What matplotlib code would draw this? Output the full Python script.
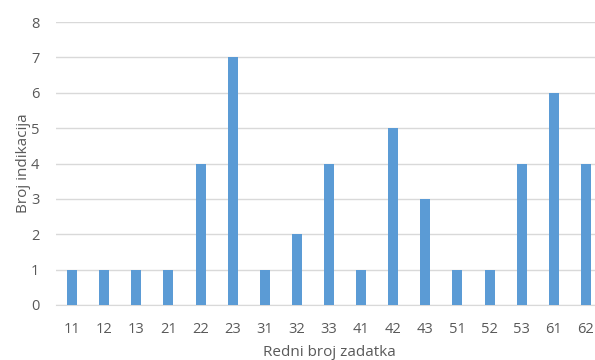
import matplotlib
matplotlib.use("Agg")
import matplotlib.pyplot as plt

categories = ["11", "12", "13", "21", "22", "23", "31", "32", "33", "41",
              "42", "43", "51", "52", "53", "61", "62"]
values = [1, 1, 1, 1, 4, 7, 1, 2, 4, 1, 5, 3, 1, 1, 4, 6, 4]
y_ticks = [0, 1, 2, 3, 4, 5, 6, 7, 8]

plt.rcParams["font.family"] = ["Open Sans", "DejaVu Sans"]

W, H = 595, 360
fig = plt.figure(figsize=(W / 100, H / 100), dpi=100)
left, right = 56, 602
top, bottom = 22, 305
ax = fig.add_axes([left / W, 1 - bottom / H, (right - left) / W, (bottom - top) / H])

x = list(range(len(categories)))
ax.bar(x, values, width=0.31, color="#5B9BD5", zorder=3)

ax.set_xlim(-0.5, len(categories) - 0.5)
ax.set_ylim(0, 8)
ax.set_yticks(y_ticks)
ax.set_xticks(x)
ax.set_xticklabels(categories)
ax.yaxis.grid(True, color="#D9D9D9", linewidth=1, zorder=0)
for side in ("top", "right", "left"):
    ax.spines[side].set_visible(False)
ax.spines["bottom"].set_color("#D9D9D9")
ax.tick_params(axis="both", length=0, labelsize=10.5, colors="#595959")
ax.tick_params(axis="x", pad=12)
ax.tick_params(axis="y", pad=12)

ax.set_xlabel("Redni broj zadatka", fontsize=11, color="#595959", labelpad=6)
ax.set_ylabel("Broj indikacija", fontsize=11, color="#595959", labelpad=0)

fig.savefig("out.png", dpi=100)
